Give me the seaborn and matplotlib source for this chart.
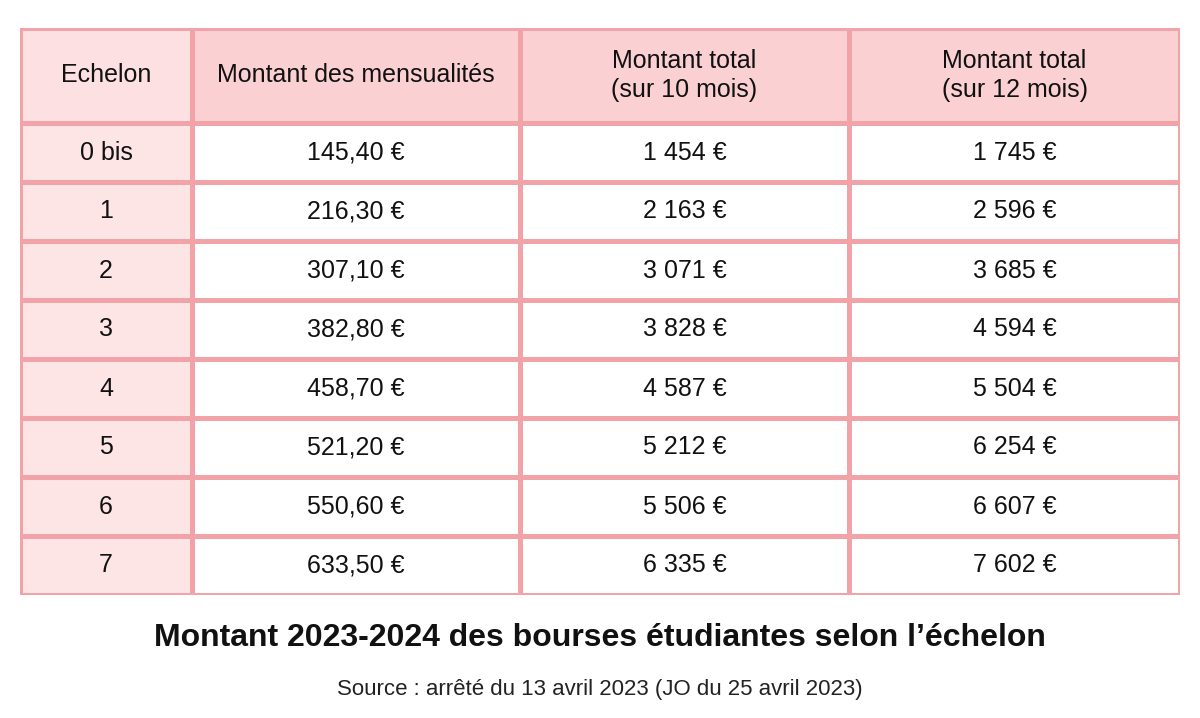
import matplotlib
matplotlib.use("Agg")
import matplotlib.pyplot as plt
import seaborn as sns
import numpy as np

headers = ["Echelon", "Montant des mensualités", "Montant total\n(sur 10 mois)", "Montant total\n(sur 12 mois)"]
echelons = ["0 bis", "1", "2", "3", "4", "5", "6", "7"]
mensualites = ["145,40 €", "216,30 €", "307,10 €", "382,80 €", "458,70 €", "521,20 €", "550,60 €", "633,50 €"]
total10 = ["1 454 €", "2 163 €", "3 071 €", "3 828 €", "4 587 €", "5 212 €", "5 506 €", "6 335 €"]
total12 = ["1 745 €", "2 596 €", "3 685 €", "4 594 €", "5 504 €", "6 254 €", "6 607 €", "7 602 €"]
title = "Montant 2023-2024 des bourses étudiantes selon l’échelon"
source = "Source : arrêté du 13 avril 2023 (JO du 25 avril 2023)"

sns.set_theme(style="white")
plt.rcParams['font.family'] = ['Liberation Sans', 'DejaVu Sans']

fig = plt.figure(figsize=(12, 7.18), dpi=100)
ax = fig.add_axes([20/1200, 1-595/718, 1160/1200, (595-28)/718])
xe = np.array([0, 172, 500, 829, 1160])
ye = np.concatenate([[0], 95 + 59*np.arange(9)])
codes = np.zeros((9, 4))
codes[0, :] = 2
codes[0, 0] = 3
codes[1:, 0] = 1
cmap = matplotlib.colors.ListedColormap(["#ffffff", "#fde4e5", "#fbd0d3", "#fde0e2"])
ax.pcolormesh(xe, ye, codes, cmap=cmap, vmin=-0.5, vmax=3.5, edgecolor="#f2a3a8", linewidth=2.5)
ax.set_xlim(0, 1160); ax.set_ylim(ye[-1], 0)
ax.axis("off")
cols = [echelons, mensualites, total10, total12]
xc = (xe[:-1] + xe[1:]) / 2
yc = (ye[:-1] + ye[1:]) / 2
for j in range(4):
    ax.text(xc[j], yc[0], headers[j], ha="center", va="center", fontsize=18, color="#111111", linespacing=1.3)
    for i, v in enumerate(cols[j]):
        ax.text(xc[j], yc[i+1], v, ha="center", va="center", fontsize=18, color="#111111")
fig.text(0.5, 1-638/718, title, ha="center", va="center", fontsize=23, fontweight="bold", color="#111111")
fig.text(0.5, 1-690/718, source, ha="center", va="center", fontsize=16, color="#222222")
fig.savefig("out.png", dpi=100, facecolor="white")
